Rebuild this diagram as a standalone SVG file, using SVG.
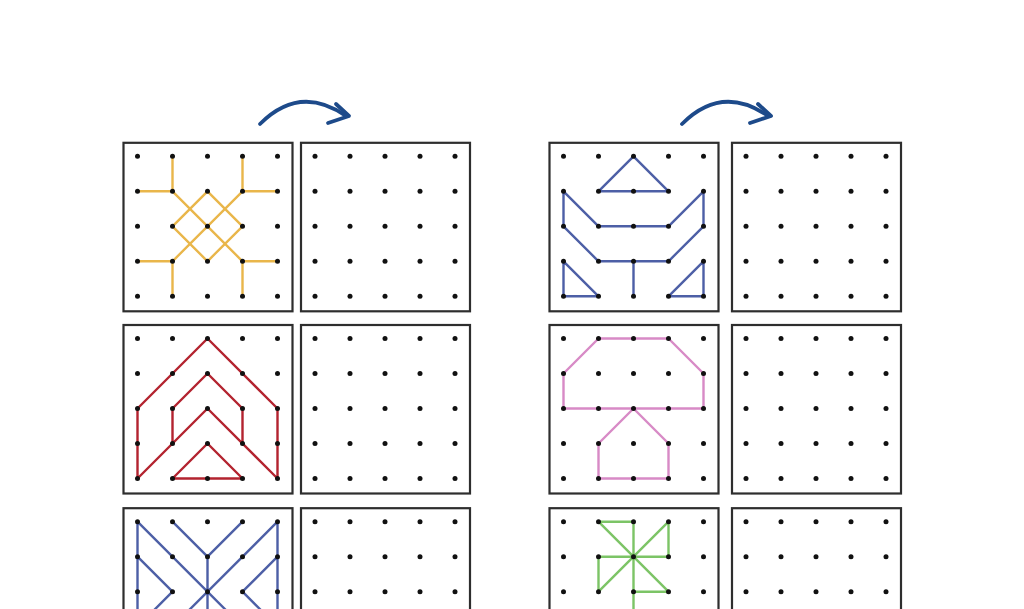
<svg xmlns="http://www.w3.org/2000/svg" xmlns:xlink="http://www.w3.org/1999/xlink" width="1024" height="609" viewBox="0 0 1024 609">
<style>
.box{fill:none;stroke:#2e2e2e;stroke-width:2.2}
.dot{fill:#111}
.pat{fill:none;stroke-width:2.4;stroke-linecap:round;stroke-linejoin:round}
.yel{stroke:#e9b64a}
.red{stroke:#b3232f}
.blu{stroke:#4d5fa6}
.pnk{stroke:#d88ac6}
.grn{stroke:#7cc466}
.arr{fill:none;stroke:#1d4a8a;stroke-width:3.8;stroke-linecap:round;stroke-linejoin:round}
</style>
<defs>
<g id="frame">
<rect class="box" x="0" y="0.5" width="169" height="168.5"/>
</g>
<g id="dots">
<circle class="dot" cx="14" cy="14" r="2.5"/><circle class="dot" cx="49" cy="14" r="2.5"/><circle class="dot" cx="84" cy="14" r="2.5"/><circle class="dot" cx="119" cy="14" r="2.5"/><circle class="dot" cx="154" cy="14" r="2.5"/>
<circle class="dot" cx="14" cy="49" r="2.5"/><circle class="dot" cx="49" cy="49" r="2.5"/><circle class="dot" cx="84" cy="49" r="2.5"/><circle class="dot" cx="119" cy="49" r="2.5"/><circle class="dot" cx="154" cy="49" r="2.5"/>
<circle class="dot" cx="14" cy="84" r="2.5"/><circle class="dot" cx="49" cy="84" r="2.5"/><circle class="dot" cx="84" cy="84" r="2.5"/><circle class="dot" cx="119" cy="84" r="2.5"/><circle class="dot" cx="154" cy="84" r="2.5"/>
<circle class="dot" cx="14" cy="119" r="2.5"/><circle class="dot" cx="49" cy="119" r="2.5"/><circle class="dot" cx="84" cy="119" r="2.5"/><circle class="dot" cx="119" cy="119" r="2.5"/><circle class="dot" cx="154" cy="119" r="2.5"/>
<circle class="dot" cx="14" cy="154" r="2.5"/><circle class="dot" cx="49" cy="154" r="2.5"/><circle class="dot" cx="84" cy="154" r="2.5"/><circle class="dot" cx="119" cy="154" r="2.5"/><circle class="dot" cx="154" cy="154" r="2.5"/>
</g>
</defs>
<rect width="1024" height="609" fill="#fff"/>

<g id="connectors">
<path class="arr" d="M260,124 Q300,84 346,116"/>
<path class="arr" d="M336,104 L349,116 L328,123"/>
<path class="arr" d="M682,124 Q722,84 768,116"/>
<path class="arr" d="M758,104 L771,116 L750,123"/>
</g>

<g id="grid-a1" transform="translate(123.5,142.3)">
<use href="#frame"/>
<path class="pat yel" d="M49,14 V49 H14 M119,14 V49 H154 M14,119 H49 V154 M154,119 H119 V154 M49,49 L119,119 M119,49 L49,119 M84,49 L119,84 L84,119 L49,84 Z"/>
<use href="#dots"/>
</g>
<g id="grid-b1" transform="translate(301,142.3)">
<use href="#frame"/>
<use href="#dots"/>
</g>
<g id="grid-c1" transform="translate(549.5,142.3)">
<use href="#frame"/>
<path class="pat blu" d="M84,14 L49,49 H119 Z M14,49 L49,84 H119 L154,49 V84 L119,119 H49 L14,84 Z M84,119 V154 M14,119 V154 H49 Z M154,119 V154 H119 Z"/>
<use href="#dots"/>
</g>
<g id="grid-d1" transform="translate(732,142.3)">
<use href="#frame"/>
<use href="#dots"/>
</g>

<g id="grid-a2" transform="translate(123.5,324.5)">
<use href="#frame"/>
<path class="pat red" d="M14,154 V84 L84,14 L154,84 V154 L84,84 Z M49,119 V84 L84,49 L119,84 V119 M49,154 L84,119 L119,154 Z"/>
<use href="#dots"/>
</g>
<g id="grid-b2" transform="translate(301,324.5)">
<use href="#frame"/>
<use href="#dots"/>
</g>
<g id="grid-c2" transform="translate(549.5,324.5)">
<use href="#frame"/>
<path class="pat pnk" d="M49,14 H119 L154,49 V84 H14 V49 Z M84,84 L119,119 V154 H49 V119 Z"/>
<use href="#dots"/>
</g>
<g id="grid-d2" transform="translate(732,324.5)">
<use href="#frame"/>
<use href="#dots"/>
</g>

<g id="grid-a3" transform="translate(123.5,507.7)">
<use href="#frame"/>
<path class="pat blu" d="M14,14 V154 M154,14 V154 M14,14 L119,119 M154,14 L49,119 M49,14 L84,49 L119,14 M84,49 V154 M14,49 L49,84 L14,119 M154,49 L119,84 L154,119"/>
<use href="#dots"/>
</g>
<g id="grid-b3" transform="translate(301,507.7)">
<use href="#frame"/>
<use href="#dots"/>
</g>
<g id="grid-c3" transform="translate(549.5,507.7)">
<use href="#frame"/>
<path class="pat grn" d="M49,14 L119,84 M119,14 L49,84 M49,49 H119 M84,14 V154 M49,14 H84 M119,14 V49 M119,84 H84 M49,84 V49"/>
<use href="#dots"/>
</g>
<g id="grid-d3" transform="translate(732,507.7)">
<use href="#frame"/>
<use href="#dots"/>
</g>
</svg>
